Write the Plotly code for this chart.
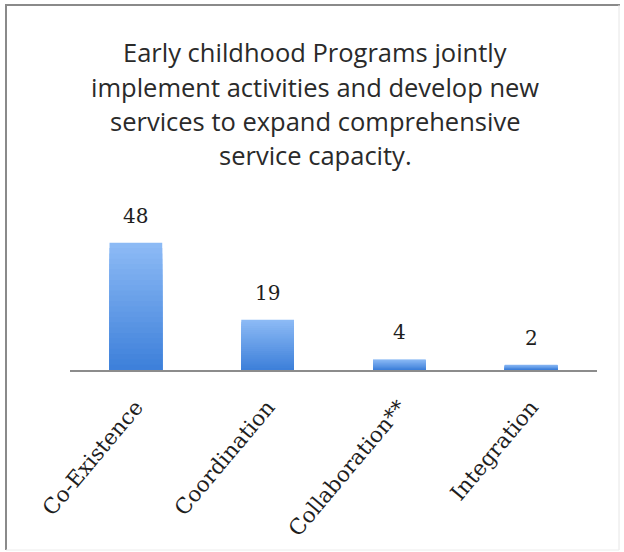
import plotly.graph_objects as go

# Chart data
categories = ["Co-Existence", "Coordination", "Collaboration**", "Integration"]
counts = [48, 19, 4, 2]
title_lines = [
    "Early childhood Programs jointly",
    "implement activities and develop new",
    "services to expand comprehensive",
    "service capacity.",
]

# Plot-area geometry in pixels
W, H = 624, 552
L, R, T, B = 70, 27, 211, 182
pw, ph = W - L - R, H - T - B

fig = go.Figure()

# Vertical gradient on each bar: stacked overlays of shrinking height,
# light blue at the top fading to a deeper blue at the base.
top_rgb = (140, 186, 245)
bot_rgb = (62, 128, 218)
steps = 24
for k in range(steps):
    f = 1 - k / steps
    t = k / (steps - 1)
    c = tuple(round(top_rgb[i] + (bot_rgb[i] - top_rgb[i]) * t) for i in range(3))
    fig.add_trace(go.Bar(
        x=categories,
        y=[v * f for v in counts],
        width=0.4,
        marker=dict(color=f"rgb{c}", line=dict(width=0)),
        hoverinfo="skip",
        showlegend=False,
    ))

# Value labels above bars
for cat, v in zip(categories, counts):
    fig.add_annotation(
        x=cat, y=v, xref="x", yref="y", text=str(v), showarrow=False,
        yanchor="bottom", yshift=13,
        font=dict(family="DejaVu Serif", size=20, color="#1e1e1e"),
    )

# Multi-line heading, one annotation per line for wide line spacing
title_y = [52, 87, 121, 155]
for line, py in zip(title_lines, title_y):
    fig.add_annotation(
        x=(315 - L) / pw, y=1 + (T - py) / ph, xref="paper", yref="paper",
        text=line, showarrow=False, xanchor="center", yanchor="middle",
        font=dict(family="Open Sans", size=25.5, color="#2a2a2a"),
    )

# Frame around the chart
def px_x(p):
    return (p - L) / pw

def px_y(p):
    return 1 - (p - T) / ph

fig.add_shape(type="line", xref="paper", yref="paper",
              x0=px_x(6), x1=px_x(6), y0=px_y(5), y1=px_y(550),
              line=dict(color="#8a8a8a", width=2))
fig.add_shape(type="line", xref="paper", yref="paper",
              x0=px_x(5), x1=px_x(620), y0=px_y(5), y1=px_y(5),
              line=dict(color="#8a8a8a", width=2))
fig.add_shape(type="line", xref="paper", yref="paper",
              x0=px_x(619), x1=px_x(619), y0=px_y(5), y1=px_y(550),
              line=dict(color="#e6e6e6", width=1))
fig.add_shape(type="line", xref="paper", yref="paper",
              x0=px_x(6), x1=px_x(619), y0=px_y(550), y1=px_y(550),
              line=dict(color="#ececec", width=1))

fig.update_layout(
    width=W, height=H,
    margin=dict(l=L, r=R, t=T, b=B),
    barmode="overlay",
    bargap=0.6,
    paper_bgcolor="white",
    plot_bgcolor="white",
    showlegend=False,
    xaxis=dict(
        showline=True, linecolor="#8c8c8c", linewidth=2,
        ticks="", tickangle=-50, ticklabelstandoff=14, automargin=False,
        tickfont=dict(family="DejaVu Serif", size=21.5, color="#1e1e1e"),
        showgrid=False,
    ),
    yaxis=dict(
        range=[0, 60], visible=False, showgrid=False, zeroline=False,
    ),
)

fig.write_html("out.html")
